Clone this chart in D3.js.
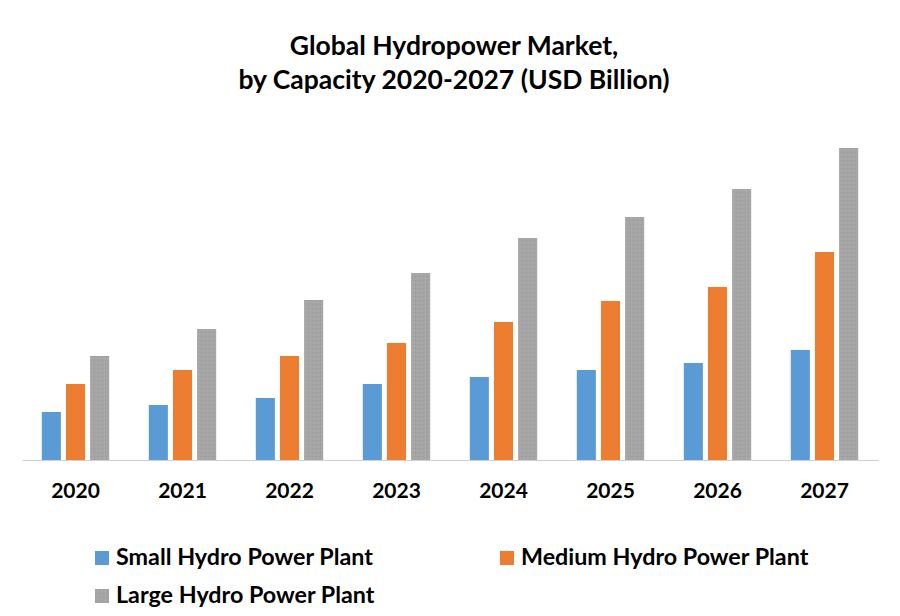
<!DOCTYPE html>
<html>
<head>
<meta charset="utf-8">
<script src="https://cdn.jsdelivr.net/npm/d3@7"></script>
<style>
  body { margin: 0; background: #fff; }
  svg { display: block; font-family: Lato, "Open Sans", sans-serif; }
</style>
</head>
<body>
<div id="chart"></div>
<script>
// Global Hydropower Market by capacity (USD Billion)

const years = ["2020", "2021", "2022", "2023", "2024", "2025", "2026", "2027"];
const seriesNames = ["Small Hydro Power Plant", "Medium Hydro Power Plant", "Large Hydro Power Plant"];
const seriesColors = ["#5b9bd5", "#ed7d31", "#a5a5a5"];

// values
const smallHydro  = [4.8, 5.5, 6.2, 7.6, 8.3, 9.0, 9.7, 11.0];
const mediumHydro = [7.6, 9.0, 10.4, 11.7, 13.8, 15.9, 17.3, 20.8];
const largeHydro  = [10.4, 13.1, 16.0, 18.7, 22.2, 24.3, 27.1, 31.2];

const seriesValues = [smallHydro, mediumHydro, largeHydro];

const width = 900, height = 616;
const margin = { left: 22, right: 22, bottom: 156 };

const svg = d3.select("#chart").append("svg")
    .attr("width", width)
    .attr("height", height);

// faint stipple for the grey bars
const defs = svg.append("defs");
const pat = defs.append("pattern")
    .attr("id", "stipple")
    .attr("width", 4).attr("height", 4)
    .attr("patternUnits", "userSpaceOnUse");
pat.append("rect").attr("width", 4).attr("height", 4).attr("fill", "#a5a5a5");
pat.append("rect").attr("x", 0).attr("y", 0).attr("width", 1).attr("height", 1).attr("fill", "#999");
pat.append("rect").attr("x", 2).attr("y", 2).attr("width", 1).attr("height", 1).attr("fill", "#b0b0b0");

// Title
const title = svg.append("text")
    .attr("text-anchor", "middle")
    .attr("font-weight", "bold")
    .attr("font-size", 26.5)
    .attr("fill", "#000");
title.append("tspan").attr("x", 454).attr("y", 55).text("Global Hydropower Market,");
title.append("tspan").attr("x", 454).attr("y", 89).text("by Capacity 2020-2027 (USD Billion)");

// Scales
const baseY = height - margin.bottom; // 460

const x0 = d3.scaleBand()
    .domain(years)
    .range([margin.left, width - margin.right])
    .paddingInner(0.37)
    .paddingOuter(0.185);

const x1 = d3.scaleBand()
    .domain(d3.range(seriesNames.length))
    .range([0, x0.bandwidth()])
    .paddingInner(0.21)
    .paddingOuter(0);

const y = d3.scaleLinear()
    .domain([0, 32])
    .range([baseY, baseY - 320]);

// Bars
const groups = svg.append("g")
    .selectAll("g")
    .data(years)
    .join("g")
    .attr("transform", d => `translate(${x0(d)},0)`);

groups.selectAll("rect")
    .data((d, i) => seriesValues.map((vals, s) => ({ s, v: vals[i] })))
    .join("rect")
    .attr("x", d => x1(d.s))
    .attr("width", x1.bandwidth())
    .attr("y", d => y(d.v))
    .attr("height", d => baseY - y(d.v))
    .attr("fill", d => d.s === 2 ? "url(#stipple)" : seriesColors[d.s]);

// Axis
const xAxis = svg.append("g")
    .attr("transform", `translate(0,${baseY})`)
    .call(d3.axisBottom(x0).tickSize(0).tickPadding(23).tickSizeOuter(0));

xAxis.select(".domain")
    .attr("stroke", "#d0d0d0")
    .attr("stroke-width", 1.2);

xAxis.selectAll("text")
    .attr("font-family", "Lato, sans-serif")
    .attr("font-size", 21)
    .attr("font-weight", "bold")
    .attr("fill", "#000");

// Legend
const legendPos = [[95, 551], [500, 551], [95, 589]];

const legend = svg.append("g")
    .selectAll("g")
    .data(seriesNames)
    .join("g")
    .attr("transform", (d, i) => `translate(${legendPos[i][0]},${legendPos[i][1]})`);

legend.append("rect")
    .attr("width", 14)
    .attr("height", 14)
    .attr("fill", (d, i) => i === 2 ? "url(#stipple)" : seriesColors[i]);

legend.append("text")
    .attr("x", 21)
    .attr("y", 14)
    .attr("font-size", 23.3)
    .attr("font-weight", "bold")
    .attr("fill", "#000")
    .text(d => d);
</script>
</body>
</html>
